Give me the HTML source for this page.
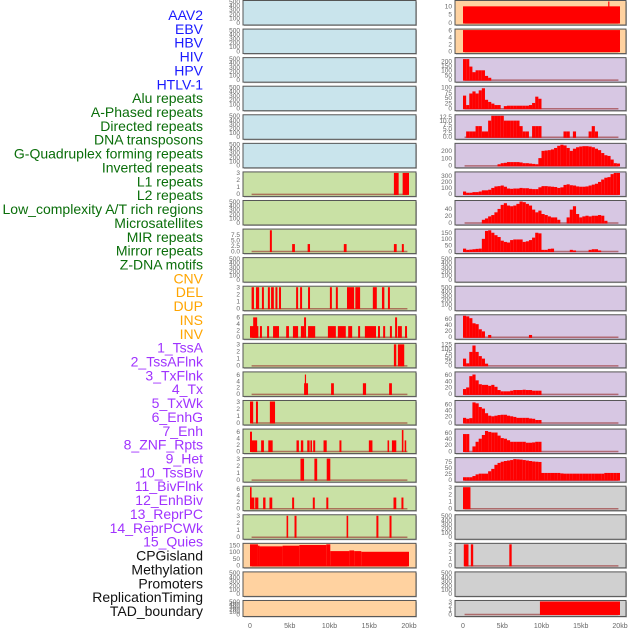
<!DOCTYPE html>
<html><head><meta charset="utf-8">
<style>
html,body{margin:0;padding:0;background:#fff;}
svg{display:block;font-family:"Liberation Sans",sans-serif;}
</style></head>
<body>
<svg id="chart" width="630" height="630" viewBox="0 0 630 630" xmlns="http://www.w3.org/2000/svg">
<g id="labels"></g>
<g id="panels"></g>
<g id="xaxis"></g>
</svg>
<script>
// ---- data ----
const featureLabels = ["AAV2","EBV","HBV","HIV","HPV","HTLV-1","Alu repeats","A-Phased repeats","Directed repeats","DNA transposons","G-Quadruplex forming repeats","Inverted repeats","L1 repeats","L2 repeats","Low_complexity A/T rich regions","Microsatellites","MIR repeats","Mirror repeats","Z-DNA motifs","CNV","DEL","DUP","INS","INV","1_TssA","2_TssAFlnk","3_TxFlnk","4_Tx","5_TxWk","6_EnhG","7_Enh","8_ZNF_Rpts","9_Het","10_TssBiv","11_BivFlnk","12_EnhBiv","13_ReprPC","14_ReprPCWk","15_Quies","CPGisland","Methylation","Promoters","ReplicationTiming","TAD_boundary"];
const labelGroups = [6,13,5,15,5];
const xTickValues = [0,5,10,15,20];
const xTickLabels = ["0","5kb","10kb","15kb","20kb"];
const binWidthKb = 0.4;

// left column: bars [startKb, endKb, height]
const L6 = [[18.1,18.7,3],[19.2,20,3]];
const L8 = [[2.5,2.75,9.5],[5.3,5.65,3.2],[7.25,7.55,3.2],[11.8,12.15,3.2],[18.1,18.45,3.2],[19.1,19.35,3.2]];
const L10 = [[0.2,0.5,3],[0.75,1.15,3],[1.5,1.75,3],[2.25,2.5,3],[2.65,3.0,3],[3.2,3.45,3],[3.65,3.9,3],[5.8,6.05,3],[6.3,6.55,3],[7.3,7.55,3],[10.05,10.3,3],[10.8,11.05,3],[12.2,13.1,3],[13.25,13.85,3],[15.45,15.95,3],[16.6,16.9,3],[17.35,17.6,3]];
const L11 = [[0,1.05,3.3],[0.4,0.9,6],[1.25,1.5,3.3],[2.15,2.4,3.3],[2.9,3.65,3.3],[4.55,4.9,3.3],[5.4,6.05,3.3],[6.4,6.8,3.3],[6.8,7.05,6],[7.3,8.2,3.3],[9.8,10.8,3.3],[11.05,12.05,3.3],[12.35,12.85,3.3],[13.6,13.85,3.3],[14.45,15.85,3.3],[16.1,16.35,3.3],[16.75,17.0,3.3],[17.6,17.85,3.3],[18.25,18.5,6],[18.6,19.1,3.3],[19.5,19.75,3.3]];
const L12 = [[18.1,18.4,3],[18.6,19.4,3]];
const L13 = [[6.8,7.3,3.3],[6.9,7.05,6],[10.2,10.55,3.3],[14.2,14.6,3.3],[17.5,17.85,3.3]];
const L14 = [[0,0.4,3],[0.75,1.0,3],[2.5,3.15,3]];
const L15 = [[0,0.25,6],[0.25,0.9,3.3],[1.4,1.75,3.3],[2.3,2.85,3.3],[5.85,6.15,3.3],[6.4,6.7,3.3],[7.2,7.5,3.3],[7.6,7.8,3.3],[7.95,8.2,3.3],[9.25,9.65,3.3],[11.25,11.5,3.3],[14.95,15.4,3.3],[17.3,17.5,3.3],[17.85,18.4,3.3],[19.1,19.3,6.5],[19.45,19.65,3.3]];
const L16 = [[6.35,6.8,3],[8.1,8.45,3],[9.65,10.1,3]];
const L17 = [[0,0.2,6.5],[0,0.55,3.3],[0.65,1.05,3.3],[1.65,1.95,3.3],[2.45,2.8,3.3],[5.3,5.55,3.3],[7.9,8.15,3.3],[9.6,9.85,3.3],[18.05,18.4,3.3],[19.05,19.3,3.3]];
const L18 = [[4.6,4.8,3],[5.6,5.85,3],[12.15,12.35,3],[15.9,16.15,3],[17.55,17.8,3]];
const L19 = [[0,1,155],[1,1.2,145],[1.2,4.1,140],[4.1,6.2,145],[6.2,9.6,150],[9.6,10.1,155],[10.1,12.5,105],[12.5,13.1,110],[13.1,14,105],[14,20,100]];

// right column: bars or binned values (bin width 0.4kb)
const R0 = [[0,20,10],[18.5,18.65,13]];
const R1 = [[0,20,6]];
const R2 = [220,220,140,80,100,100,100,40,20];
const R3 = [60,15,70,80,70,85,95,40,30,22,15,15,0,10,12,12,12,12,12,12,12,15,25,55,45];
const R4 = [0,3.3,3.3,3.3,6.6,6.6,3.3,3.3,10,13,13,13,13,10,10,10,10,10,6.6,3.3,3.3,0,6.6,6.6,6.6,0,0,0,0,0,0,0,3.3,3.3,0,3.3,0,0,0,0,3.3,6.6,3.3];
const R5 = [0,0,0,0,0,0,0,0,0,0,0,15,30,35,45,45,45,45,40,30,30,25,20,15,100,200,205,210,220,240,270,285,275,240,200,230,250,260,265,265,260,250,230,210,170,140,130,80,30,25];
const R6 = [40,20,20,30,30,40,60,60,70,100,125,130,140,120,90,85,90,90,100,95,95,85,80,80,110,130,130,125,120,115,100,110,150,160,145,140,125,120,120,125,140,155,170,200,240,270,280,330,350,350];
const R7 = [0,0,0,0,0,0,8,12,18,22,30,40,52,57,50,48,50,55,62,60,55,50,38,30,35,25,22,18,15,15,8,0,0,15,38,48,25,15,18,20,18,20,20,22,20,5];
const R8 = [20,10,12,15,18,20,100,165,170,150,130,115,85,75,70,90,95,95,95,75,80,90,110,150,145,10,10,18,20,0,0,0,0,0,10,5,0,0,0,0,10,15,15,5];
const R11 = [70,68,62,45,42,25,18,0,6,0,0,0,0,0,0,0,0,0,0,0,0,6];
const R12 = [40,12,80,118,80,55,40,10];
const R13 = [15,20,55,60,42,30,28,28,25,28,22,12,8,8,8,10,12,12,12,13,12,12,10,10,10];
const R14 = [15,12,14,65,62,50,45,30,22,20,22,24,25,25,22,20,18,15,15,15,15,13,12,8,8];
const R15 = [55,55,0,15,30,40,52,65,62,60,60,50,42,40,35,30,30,30,30,30,27,27,28,30,30];
const R16 = [10,10,10,15,22,25,25,25,35,45,62,70,75,78,80,82,86,85,84,82,80,78,76,75,74,28,28,28,28,28,28,26,25,25,25,25,25,25,25,25,25,25,25,25,25,28,28,28,28,28];
const R17 = [[0,0.95,3]];
const R19 = [[0.1,0.7,3],[1.0,1.3,3],[5.9,6.2,3]];
const R21 = [[9.8,20,3]];

const T500 = [0,100,200,300,400,500];
const T3 = [0,1,2,3];
const T6 = [0,2,4,6];

// ---- layout ----
const labelColors = ["#1a1aff","#0a6e0a","#ffa500","#a033ff","#111111"];
const LEFT = {x0:243, x1:416, k0:250, k1:409};
const RIGHT = {x0:455, x1:626, k0:463, k1:620};
const BLUE="#c9e4ec", GREEN="#c9e1a5", ORANGE="#ffd2a0", PURPLE="#d7c7e3", GRAY="#d0d0d0";

function binsToBars(b){ const out=[]; b.forEach((v,i)=>{ if(v>0) out.push([i*binWidthKb,(i+1)*binWidthKb,v]); }); return out; }

const leftPanels = [
 [BLUE,null,500,T500],[BLUE,null,500,T500],[BLUE,null,500,T500],[BLUE,null,500,T500],[BLUE,null,500,T500],[BLUE,null,500,T500],
 [GREEN,L6,3,T3],[GREEN,null,500,T500],[GREEN,L8,9.6,[0,2.5,5,7.5],1],[GREEN,null,500,T500],
 [GREEN,L10,3,T3],[GREEN,L11,6.5,T6],[GREEN,L12,3,T3],[GREEN,L13,6.5,T6],[GREEN,L14,3,T3],
 [GREEN,L15,6.5,T6],[GREEN,L16,3,T3],[GREEN,L17,6.5,T6],[GREEN,L18,3,T3],
 [ORANGE,L19,155,[0,50,100,150]],[ORANGE,null,500,T500],[ORANGE,null,500,T500]
];
const rightPanels = [
 [ORANGE,R0,13,[0,5,10]],[ORANGE,R1,6,T6],
 [PURPLE,binsToBars(R2),225,[0,50,100,150,200]],[PURPLE,binsToBars(R3),100,[0,25,50,75,100]],
 [PURPLE,binsToBars(R4),13,[0,2.5,5,7.5,10,12.5],1],[PURPLE,binsToBars(R5),290,[0,100,200]],
 [PURPLE,binsToBars(R6),350,[0,100,200,300]],[PURPLE,binsToBars(R7),62,[0,20,40]],
 [PURPLE,binsToBars(R8),172,[0,50,100,150]],[PURPLE,null,500,T500],[PURPLE,null,500,T500],
 [PURPLE,binsToBars(R11),70,[0,20,40,60]],[PURPLE,binsToBars(R12),125,[0,25,50,75,100,125]],
 [PURPLE,binsToBars(R13),65,[0,20,40,60]],[PURPLE,binsToBars(R14),68,[0,20,40,60]],
 [PURPLE,binsToBars(R15),68,[0,20,40,60]],[PURPLE,binsToBars(R16),88,[0,25,50,75]],
 [GRAY,R17,3,T3],[GRAY,null,500,T500],[GRAY,R19,3,T3],[GRAY,null,500,T500],[GRAY,R21,3,T3]
];

const NS="http://www.w3.org/2000/svg";
function mk(tag,attrs,parent){ const e=document.createElementNS(NS,tag); for(const k in attrs) e.setAttribute(k,attrs[k]); parent.appendChild(e); return e; }

// labels
const lg=document.getElementById('labels');
let gi=0, cnt=0;
featureLabels.forEach((t,i)=>{
  while(cnt>=labelGroups[gi]){cnt-=labelGroups[gi];gi++;}
  cnt++;
  const e=mk('text',{x:203,y:15+i*13.86+5,'text-anchor':'end','font-size':'14',fill:labelColors[gi]},lg);
  e.textContent=t;
  
  
});

const pg=document.getElementById('panels');
function drawPanel(col,row,spec,side){
  const [face,bars,ymax,ticks,dec]=spec;
  const top=row*28.57+0.5, h=(row===21?16:24.5), bot=top+h;
  const g=mk('g',{},pg);
  
  
  mk('rect',{x:col.x0+1,y:top+1,width:col.x1-col.x0,height:h,fill:'#b8b8b8'},g);
  const bg=mk('rect',{x:col.x0,y:top,width:col.x1-col.x0,height:h,fill:face,stroke:'#555','stroke-width':1},g);
  
  
  const xs=kb=>col.k0+kb*(col.k1-col.k0)/20;
  const ys=v=>bot-2.5-v/ymax*(h-3.5);
  if(bars){
    const base=mk('line',{x1:xs(0.2),x2:xs(19.8),y1:ys(0)+0.5,y2:ys(0)+0.5,stroke:'rgba(150,40,40,0.6)','stroke-width':1.5},g);
    
    
    bars.forEach(b=>{
      const r=mk('rect',{x:xs(b[0]),y:ys(b[2]),width:Math.max(xs(b[1])-xs(b[0]),1),height:ys(0)-ys(b[2])+1,fill:'#ff0000'},g);
      
      
    });
  }
  ticks.forEach(v=>{
    const t=mk('text',{x:col.x0-3,y:ys(v)+2.3,'text-anchor':'end','font-size':'6.5',fill:'#666'},g);
    t.textContent=dec?v.toFixed(1):String(v);
    
    
  });
}
leftPanels.forEach((s,i)=>drawPanel(LEFT,i,s,'left'));
rightPanels.forEach((s,i)=>drawPanel(RIGHT,i,s,'right'));

const xg=document.getElementById('xaxis');
[LEFT,RIGHT].forEach(col=>{
  xTickValues.forEach((v,i)=>{
    const t=mk('text',{x:col.k0+v*(col.k1-col.k0)/20,y:628,'text-anchor':'middle','font-size':'7',fill:'#666'},xg);
    t.textContent=xTickLabels[i];
    
    
  });
});
</script>
</body></html>
